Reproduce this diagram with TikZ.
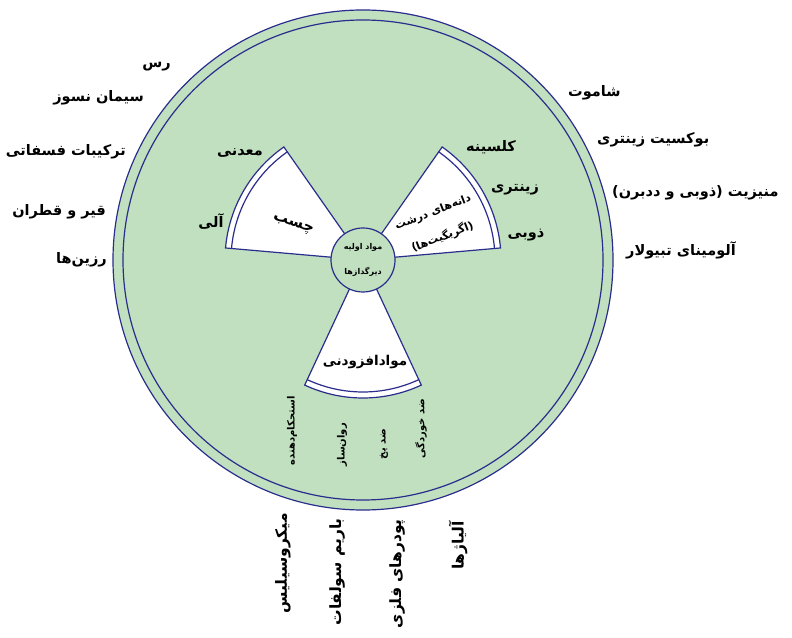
\documentclass[tikz,border=0pt]{standalone}
\usepackage{fontspec}
\newfontfamily\farsi[Script=Arabic]{DejaVu Sans}
\TeXXeTstate=1
\newcommand{\fa}[1]{\farsi\bfseries\beginR #1\endR}
\definecolor{ringGreen}{RGB}{192,224,192}
\definecolor{ringBlue}{RGB}{42,45,140}

\begin{document}
\begin{tikzpicture}
[x=1pt,y=1pt,
  ringDecorate/.style={draw=ringBlue,line width=1.2pt},%
  sectorDecorate/.style={draw=ringBlue,line width=1.2pt},%
  labelDecorate/.style={inner sep=1pt,font=\fontsize{14.5}{16}\selectfont},%
  smallDecorate/.style={inner sep=1pt,rotate=90,anchor=east,font=\fontsize{10}{12}\selectfont},%
  bigDecorate/.style={inner sep=1pt,rotate=90,anchor=east,font=\fontsize{15.5}{17}\selectfont}]
\useasboundingbox (0,0) rectangle (792,637);
\coordinate (c) at (363,377);
%% rings
\fill[ringGreen] (c) circle (250);
\draw[ringDecorate] (c) circle (250);
\draw[ringDecorate] (c) circle (240);
%% white sectors
\begin{scope}[shift={(c)}]
\foreach \a in {5,125,245}
{
  \fill[white] (0,0) -- (\a:138) arc (\a:\a+50:138) -- cycle;
  \draw[sectorDecorate] (\a:32) -- (\a:138) arc (\a:\a+50:138) -- (\a+50:32);
  \draw[sectorDecorate] (\a:132) arc (\a:\a+50:132);
}
\end{scope}
%% core
\node (core) at (c) [circle,minimum size=64pt,inner sep=0pt,fill=ringGreen,ringDecorate,
  align=center,font=\fontsize{8}{25}\selectfont] {\fa{مواد اولیه}\\\fa{دیرگدازها}};
%% outer labels, left and right
\foreach \nodename/\x/\y/\txt in {l1/172/570/رس, l2/145/539/سیمان نسوز,
  l3/127/485/ترکیبات فسفاتی, l4/107/425/قیر و قطران, l5/108/377/رزین‌ها}
{
  \node (\nodename) at (\x,\y) [labelDecorate,anchor=east] {\fa{\txt}};
}
\foreach \nodename/\x/\y/\txt in {r1/567/544/شاموت, r2/596/497/بوکسیت زینتری,
  r3/611/444/منیزیت (ذوبی و ددبرن), r4/625/387/آلومینای تبیولار}
{
  \node (\nodename) at (\x,\y) [labelDecorate,anchor=west] {\fa{\txt}};
}
%% labels beside the sectors
\foreach \nodename/\x/\y/\txt in {s1/240/484/معدنی, s2/211/415/آلی,
  s3/491/490/کلسینه, s4/515/447/زینتری, s5/526/402/ذوبی}
{
  \node (\nodename) at (\x,\y) [labelDecorate] {\fa{\txt}};
}
%% sector titles
\node (glue) at (293,412) [rotate=-18,font=\fontsize{15}{17}\selectfont] {\fa{چسب}};
\node (grain) at (438,412) [rotate=21,align=center,inner sep=0pt,
  font=\fontsize{11}{27}\selectfont] {\fa{دانه‌های درشت}\\\fa{(اگریگیت‌ها)}};
\node (additive) at (365,275) [font=\fontsize{13.5}{15}\selectfont] {\fa{موادافزودنی}};
%% rotated labels below
\foreach \nodename/\x/\y/\txt in {a1/292/242/استحکام‌دهنده, a2/342/215/روان‌ساز,
  a3/384/209/ضد یخ, a4/421/239/ضد خوردگی}
{
  \node (\nodename) at (\x,\y) [smallDecorate] {\fa{\txt}};
}
\foreach \nodename/\x/\y/\txt in {b1/283/125/میکروسیلیس, b2/337/120/باریم سولفات,
  b3/397/119/پودرهای فلزی, b4/458/117/آلیاژها}
{
  \node (\nodename) at (\x,\y) [bigDecorate] {\fa{\txt}};
}
\end{tikzpicture}
\end{document}
